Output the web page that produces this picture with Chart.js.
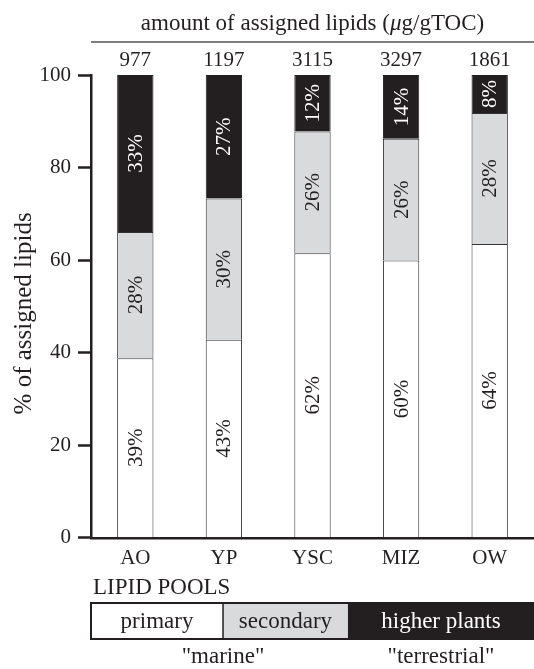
<!DOCTYPE html>
<html>
<head>
<meta charset="utf-8">
<title>Lipid pools</title>
<script src="https://cdn.jsdelivr.net/npm/chart.js@4/dist/chart.umd.min.js"></script>
<style>
    html, body { margin: 0; padding: 0; background: #fff; }
    #wrap { width: 534px; height: 669px; position: relative; }
</style>
</head>
<body>
<div id="wrap"><canvas id="lipidChart"></canvas></div>
<script>
// Chart data
var stations = ['AO', 'YP', 'YSC', 'MIZ', 'OW'];
var amounts = ['977', '1197', '3115', '3297', '1861'];
var primaryPct = [38.8, 42.8, 61.5, 59.9, 63.5];
var secondaryPct = [27.3, 30.5, 26.3, 26.3, 28.3];
var higherPlantsPct = [33.9, 26.7, 12.2, 13.8, 8.2];
var primaryLabels = ['39%', '43%', '62%', '60%', '64%'];
var secondaryLabels = ['28%', '30%', '26%', '26%', '28%'];
var higherPlantsLabels = ['33%', '27%', '12%', '14%', '8%'];
var yTicks = [0, 20, 40, 60, 80, 100];

var SERIF = '"Liberation Serif", "Times New Roman", serif';
var INK = '#231f20';
var GREY = '#d9dadc';

// Draws the labels inside the bars, the axis titles, the top amounts and the pool legend
var annotatePlugin = {
    id: 'annotate',
    afterDraw: function(chart) {
        var ctx = chart.ctx;
        var area = chart.chartArea;
        var xScale = chart.scales.x;

        ctx.save();

        // Percent labels, rotated, in the middle of each segment
        ctx.font = '21px ' + SERIF;
        ctx.textAlign = 'center';
        ctx.textBaseline = 'middle';
        chart.data.datasets.forEach(function(ds, di) {
            var meta = chart.getDatasetMeta(di);
            meta.data.forEach(function(bar, i) {
                var cy = (bar.y + bar.base) / 2;
                ctx.save();
                ctx.translate(bar.x, cy);
                ctx.rotate(-Math.PI / 2);
                ctx.fillStyle = ds.textColor;
                ctx.fillText(ds.valueLabels[i], 0, 1);
                ctx.restore();
            });
        });

        // Y axis title (sits a little below the middle of the axis)
        ctx.save();
        ctx.translate(24, (area.top + area.bottom) / 2 + 7);
        ctx.rotate(-Math.PI / 2);
        ctx.fillStyle = INK;
        ctx.font = '25px ' + SERIF;
        ctx.fillText('% of assigned lipids', 0, 0);
        ctx.restore();

        // Top axis title, with an italic mu
        var parts = [
            { t: 'amount of assigned lipids (', f: '23px ' + SERIF },
            { t: '\u03bc', f: 'italic 23px ' + SERIF },
            { t: 'g/gTOC)', f: '23px ' + SERIF }
        ];
        var total = 0;
        parts.forEach(function(p) {
            ctx.font = p.f;
            p.w = ctx.measureText(p.t).width;
            total += p.w;
        });
        var tx = (area.left + area.right) / 2 - total / 2;
        ctx.fillStyle = INK;
        ctx.textAlign = 'left';
        parts.forEach(function(p) {
            ctx.font = p.f;
            ctx.fillText(p.t, tx, 24);
            tx += p.w;
        });

        // Rule and amounts
        ctx.strokeStyle = '#555';
        ctx.lineWidth = 1.5;
        ctx.beginPath();
        ctx.moveTo(area.left, 42);
        ctx.lineTo(area.right, 42);
        ctx.stroke();
        ctx.textAlign = 'center';
        ctx.font = '21px ' + SERIF;
        amounts.forEach(function(a, i) {
            ctx.fillText(a, xScale.getPixelForValue(i), 60);
        });

        // Lipid pool legend
        ctx.textAlign = 'left';
        ctx.font = '23px ' + SERIF;
        ctx.fillText('LIPID POOLS', area.left + 2, 588);

        var boxTop = 603, boxH = 36;
        var w = area.right - area.left;
        var cuts = [area.left, area.left + w * 0.298, area.left + w * 0.58, area.right];
        var fills = ['#ffffff', GREY, INK];
        var names = ['primary', 'secondary', 'higher plants'];
        var textCols = [INK, INK, '#ffffff'];
        ctx.textAlign = 'center';
        for (var k = 0; k < 3; k++) {
            ctx.fillStyle = fills[k];
            ctx.fillRect(cuts[k], boxTop, cuts[k + 1] - cuts[k], boxH);
            ctx.fillStyle = textCols[k];
            ctx.fillText(names[k], (cuts[k] + cuts[k + 1]) / 2, boxTop + boxH / 2 + 1);
        }
        ctx.strokeStyle = INK;
        ctx.lineWidth = 2;
        ctx.strokeRect(cuts[0], boxTop, cuts[3] - cuts[0], boxH);
        ctx.lineWidth = 1.5;
        ctx.beginPath();
        ctx.moveTo(cuts[1], boxTop);
        ctx.lineTo(cuts[1], boxTop + boxH);
        ctx.stroke();

        ctx.fillStyle = INK;
        ctx.fillText('"marine"', cuts[1], 657);
        ctx.fillText('"terrestrial"', (cuts[2] + cuts[3]) / 2, 657);

        ctx.restore();
    }
};

var ctx = document.getElementById('lipidChart');

new Chart(ctx, {
    type: 'bar',
    data: {
        labels: stations,
        datasets: [{
            label: 'primary',
            data: primaryPct,
            valueLabels: primaryLabels,
            textColor: INK,
            backgroundColor: '#ffffff',
            borderColor: '#333',
            borderWidth: 1
        }, {
            label: 'secondary',
            data: secondaryPct,
            valueLabels: secondaryLabels,
            textColor: INK,
            backgroundColor: GREY,
            borderColor: '#333',
            borderWidth: 1
        }, {
            label: 'higher plants',
            data: higherPlantsPct,
            valueLabels: higherPlantsLabels,
            textColor: '#ffffff',
            backgroundColor: INK,
            borderColor: INK,
            borderWidth: 1
        }]
    },
    options: {
        responsive: true,
        maintainAspectRatio: false,
        animation: false,
        categoryPercentage: 1,
        barPercentage: 0.41,
        layout: {
            padding: { left: 0, right: 0, top: 75, bottom: 90 }
        },
        plugins: {
            legend: { display: false },
            tooltip: { enabled: false }
        },
        scales: {
            x: {
                stacked: true,
                grid: { display: false, drawTicks: false },
                border: { display: true, color: INK, width: 2.5 },
                ticks: {
                    color: INK,
                    font: { family: SERIF, size: 21 },
                    padding: 8
                }
            },
            y: {
                stacked: true,
                min: 0,
                max: 100,
                afterBuildTicks: function(scale) {
                    scale.ticks = yTicks.map(function(v) { return { value: v }; });
                },
                afterFit: function(scale) {
                    scale.width = 91;
                },
                grid: {
                    drawOnChartArea: false,
                    drawTicks: true,
                    tickLength: 13,
                    tickWidth: 2.5,
                    tickColor: INK
                },
                border: { display: true, color: INK, width: 2.5 },
                ticks: {
                    color: INK,
                    font: { family: SERIF, size: 21 },
                    padding: 7
                }
            }
        }
    },
    plugins: [annotatePlugin]
});
</script>
</body>
</html>
